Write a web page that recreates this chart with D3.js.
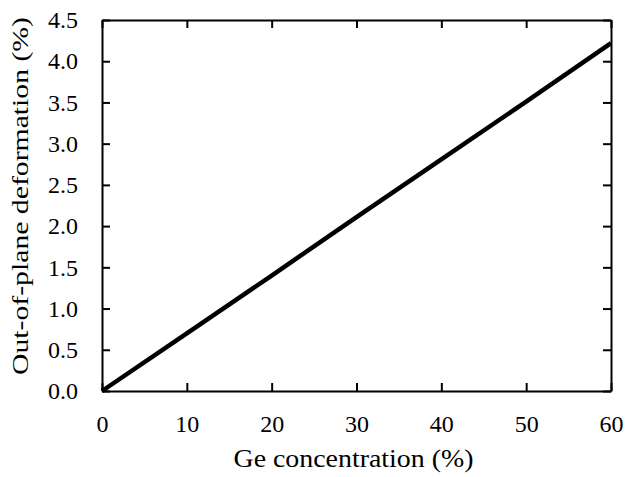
<!DOCTYPE html>
<html>
<head>
<meta charset="utf-8">
<script src="https://cdn.jsdelivr.net/npm/d3@7"></script>
<style>
  body { margin: 0; background: #fff; }
  svg { display: block; }
  text { font-family: "Liberation Serif", "Times New Roman", serif; fill: #000; }
</style>
</head>
<body>
<svg width="625" height="477"></svg>
<script>
// Ge concentration (%) vs out-of-plane deformation (%)
const geConc = [0, 10, 20, 30, 40, 50, 60];
const deformation = [0, 0.70, 1.40, 2.11, 2.81, 3.51, 4.22];
const xTicks = [0, 10, 20, 30, 40, 50, 60];
const yTicks = [0, 0.5, 1, 1.5, 2, 2.5, 3, 3.5, 4, 4.5];

const svg = d3.select("svg");
const margin = { top: 20, right: 14, bottom: 86, left: 102 };
const width = 625 - margin.left - margin.right;
const height = 477 - margin.top - margin.bottom;

const g = svg.append("g").attr("transform", `translate(${margin.left},${margin.top})`);

const x = d3.scaleLinear().domain([0, 60]).range([0, width]);
const y = d3.scaleLinear().domain([0, 4.5]).range([height, 0]);

const tickLen = 8;

// bottom axis, ticks pointing in
const xAxis = g.append("g")
    .attr("transform", `translate(0,${height})`)
    .call(d3.axisBottom(x).tickValues(xTicks).tickSizeInner(-tickLen).tickSizeOuter(0).tickPadding(24).tickFormat(d3.format("d")));

// left axis, ticks pointing in
const yAxis = g.append("g")
    .call(d3.axisLeft(y).tickValues(yTicks).tickSizeInner(-tickLen).tickSizeOuter(0).tickPadding(24).tickFormat(d3.format(".1f")));

// mirrored top and right axes
const xTop = g.append("g")
    .call(d3.axisTop(x).tickValues(xTicks).tickSizeInner(-tickLen).tickSizeOuter(0).tickFormat(""));
const yRight = g.append("g")
    .attr("transform", `translate(${width},0)`)
    .call(d3.axisRight(y).tickValues(yTicks).tickSizeInner(-tickLen).tickSizeOuter(0).tickFormat(""));

[xAxis, yAxis, xTop, yRight].forEach(a => {
    a.select(".domain").attr("stroke", "#000").attr("stroke-width", 2);
    a.selectAll(".tick line").attr("stroke", "#000").attr("stroke-width", 2);
    a.selectAll(".tick text").attr("font-size", 24).attr("font-family", "Liberation Serif, serif").attr("fill", "#000");
});

// the data line
const line = d3.line()
    .x((d, i) => x(geConc[i]))
    .y(d => y(d));

g.append("path")
    .datum(deformation)
    .attr("fill", "none")
    .attr("stroke", "#000")
    .attr("stroke-width", 4.5)
    .attr("d", line);

// axis titles (the reference glyphs look a bit stretched, so fit them to its extent)
svg.append("text")
    .attr("x", margin.left + width / 2 - 3)
    .attr("y", 467)
    .attr("text-anchor", "middle")
    .attr("font-size", 25)
    .attr("textLength", 240)
    .attr("lengthAdjust", "spacingAndGlyphs")
    .text("Ge concentration (%)");

svg.append("text")
    .attr("transform", `translate(28,196) rotate(-90)`)
    .attr("text-anchor", "middle")
    .attr("font-size", 23)
    .attr("textLength", 358)
    .attr("lengthAdjust", "spacingAndGlyphs")
    .text("Out-of-plane deformation (%)");
</script>
</body>
</html>
